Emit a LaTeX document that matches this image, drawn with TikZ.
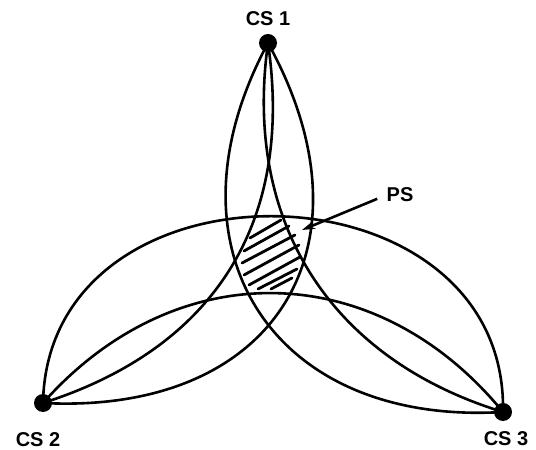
\documentclass[tikz,border=0pt]{standalone}
\usepackage{fontspec}
\setmainfont{Liberation Sans}
\usetikzlibrary{arrows.meta}

\tikzset{
  station/.style={circle, fill=black, inner sep=0pt, minimum size=18pt},
  cslabel/.style={font=\fontsize{20}{22}\selectfont\bfseries, inner sep=0pt},
  rangearc/.style={line width=2.6pt, black},
  hatchline/.style={line width=2.8pt, line cap=round},
}

\begin{document}
\begin{tikzpicture}[x=1pt, y=1pt]
\useasboundingbox (0,0) rectangle (536,450);

% --- Stations ---
\node[station] (cs1) at (268,407) {};
\node[station] (cs2) at (43,47) {};
\node[station] (cs3) at (503,38) {};

% --- Labels ---
\node[cslabel] (lab1) at (268,431) {CS 1};
\node[cslabel] (lab2) at (38,10) {CS 2};
\node[cslabel] (lab3) at (506,11) {CS 3};

% --- Arcs CS2 - CS3 ---
\draw[rangearc] (cs2.center) .. controls (48,302) and (508,293) .. (cs3.center);
\draw[rangearc] (cs2.center) .. controls (176,197) and (376,193) .. (cs3.center);

% --- Arcs CS1 - CS2 ---
\draw[rangearc] (cs1.center) .. controls (380,204) and (275,35) .. (cs2.center);
\draw[rangearc] (cs1.center) .. controls (294,228) and (215,102) .. (cs2.center);

% --- Arcs CS1 - CS3 ---
\draw[rangearc] (cs1.center) .. controls (158,203) and (271,24) .. (cs3.center);
\draw[rangearc] (cs1.center) .. controls (243,228) and (330,91) .. (cs3.center);

% --- Hatched position area ---
\foreach \xa/\ya/\xb/\yb in {250/212/281/230, 244/199/289/224, 242/187/295/215,
  244/175/299/205, 249/165/300/193, 258/161/297/181, 271/161/292/172}
  \draw[hatchline] (\xa,\ya) -- (\xb,\yb);

% --- PS pointer ---
\node[cslabel] (ps) at (400,255) {PS};
\coordinate (pstip) at (302,220);
\draw[rangearc, -{Stealth[length=13pt,width=8pt]}, shorten <=10pt] (ps.west) -- (pstip);

\end{tikzpicture}
\end{document}
